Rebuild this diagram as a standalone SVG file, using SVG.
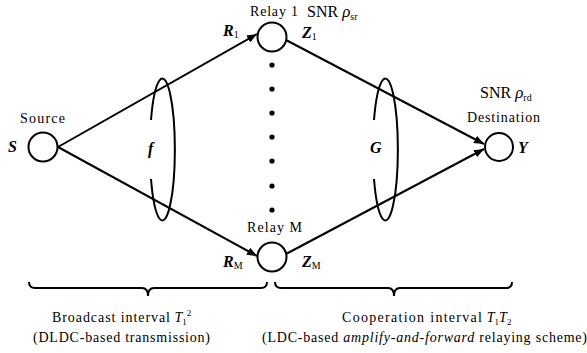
<svg xmlns="http://www.w3.org/2000/svg" width="587" height="353" viewBox="0 0 587 353" font-family="'Liberation Serif', 'DejaVu Serif', serif">
<defs>
<style>
text{font-family:'Liberation Serif','DejaVu Serif',serif}
.t{font-size:14px;fill:#000}
.L{font-size:16px;fill:#000}
.v{font-size:16px;font-weight:bold;font-style:italic;fill:#000}
.s{font-size:10px;font-weight:normal;font-style:normal}
.n{fill:#fff;stroke:#000;stroke-width:2}
.c{fill:none;stroke:#000;stroke-width:2}
.d{fill:#000}
</style>
<marker id="ah" viewBox="0 0 10 8" refX="10" refY="4" markerWidth="10" markerHeight="8" markerUnits="userSpaceOnUse" orient="auto">
<path d="M0,0 L10,4 L0,8 z" fill="#000"/>
</marker>
</defs>
<rect width="587" height="353" fill="#fff"/>
<g id="connectors">
<line class="c" x1="58" y1="147" x2="257" y2="34" marker-end="url(#ah)"/>
<line class="c" x1="58" y1="147" x2="257" y2="256" marker-end="url(#ah)"/>
<line class="c" x1="286" y1="40" x2="484" y2="144" marker-end="url(#ah)"/>
<line class="c" x1="286" y1="254" x2="484" y2="149" marker-end="url(#ah)"/>
<path class="c" d="M151,120 A12.5,71 0 1 1 151,179"/>
<path class="c" d="M374,120 A12.5,71 0 1 1 374,179"/>
<path class="c" d="M29,282 q0,6 6,6 H142 q6,0 6,8 q0,-8 6,-8 H261 q6,0 6,-6"/>
<path class="c" d="M275,282 q0,6 6,6 H388 q6,0 6,8 q0,-8 6,-8 H506 q6,0 6,-6"/>
</g>
<g id="dots">
<circle class="d" cx="272" cy="65" r="2.6"/>
<circle class="d" cx="272" cy="89" r="2.6"/>
<circle class="d" cx="272" cy="113" r="2.6"/>
<circle class="d" cx="272" cy="137" r="2.6"/>
<circle class="d" cx="272" cy="161" r="2.6"/>
<circle class="d" cx="272" cy="186" r="2.6"/>
<circle class="d" cx="272" cy="210" r="2.6"/>
</g>
<g id="source">
<circle class="n" cx="43" cy="147" r="14.5"/>
<text class="t" x="20" y="123" textLength="45">Source</text>
<text class="v" x="8" y="152">S</text>
</g>
<g id="relay1">
<circle class="n" cx="272" cy="37" r="14.5"/>
<text class="t" x="250" y="16" textLength="48">Relay 1</text>
<text class="L" x="307" y="17">SNR <tspan font-style="italic" font-size="17">ρ</tspan><tspan font-size="10" dy="3">sr</tspan></text>
<text class="v" x="223" y="36">R<tspan class="s" dy="2">1</tspan></text>
<text class="v" x="302" y="38">Z<tspan class="s" dy="2">1</tspan></text>
</g>
<g id="relayM">
<circle class="n" cx="272" cy="257" r="14.5"/>
<text class="t" x="247" y="232" textLength="55">Relay M</text>
<text class="v" x="223" y="267">R<tspan class="s" dy="2">M</tspan></text>
<text class="v" x="302" y="267">Z<tspan class="s" dy="2">M</tspan></text>
</g>
<g id="destination">
<circle class="n" cx="499" cy="147" r="14"/>
<text class="L" x="480" y="98">SNR <tspan font-style="italic" font-size="17">ρ</tspan><tspan font-size="10" dy="3">rd</tspan></text>
<text class="t" x="467" y="122" textLength="73">Destination</text>
<text class="v" x="518" y="153">Y</text>
</g>
<g id="labels">
<text class="v" x="148" y="154">f</text>
<text class="v" x="370" y="153">G</text>
<text class="t" x="52" y="322"><tspan textLength="118">Broadcast interval</tspan> <tspan font-style="italic">T</tspan><tspan font-size="9" dy="3">1</tspan><tspan font-size="9" dy="-9">2</tspan></text>
<text class="t" x="33" y="342" textLength="177">(DLDC-based transmission)</text>
<text class="t" x="342" y="322"><tspan textLength="140">Cooperation interval</tspan> <tspan font-style="italic">T</tspan><tspan font-size="9" dy="3">1</tspan><tspan font-style="italic" dy="-3">T</tspan><tspan font-size="9" dy="3">2</tspan></text>
<text class="t" x="262" y="342" textLength="325">(LDC-based <tspan font-style="italic">amplify-and-forward</tspan> relaying scheme)</text>
</g>
</svg>
